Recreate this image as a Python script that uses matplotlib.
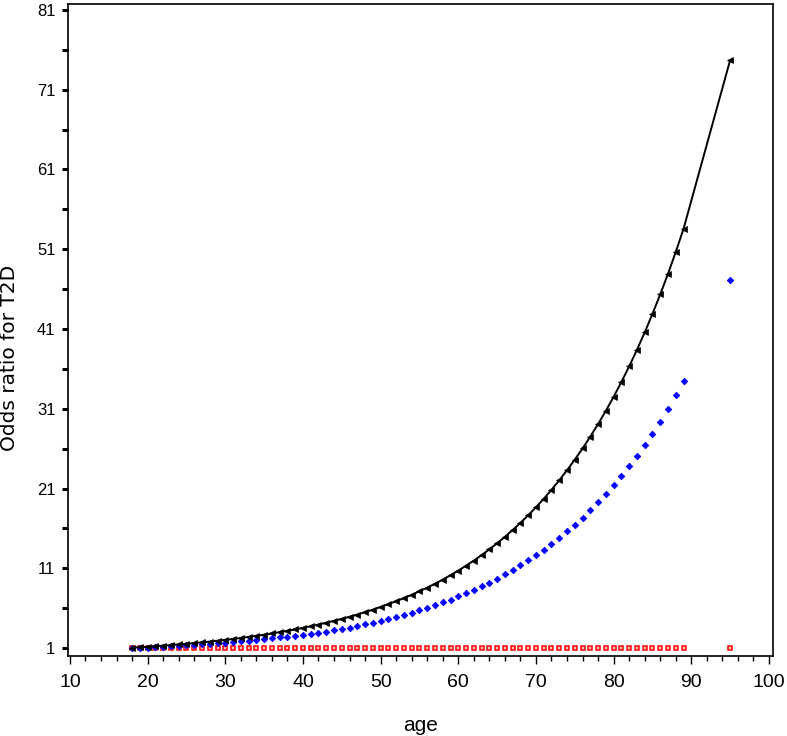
import matplotlib
matplotlib.use('Agg')
import matplotlib.pyplot as plt
from matplotlib.ticker import MultipleLocator

plt.rcParams['font.family'] = ['Liberation Sans', 'DejaVu Sans']

# ages 18..89 plus 95
ages = list(range(18, 90)) + [95]

# odds ratio, black line
or_black = [
    1.04, 1.10, 1.16, 1.23, 1.30, 1.37, 1.45, 1.53, 1.62, 1.71,
    1.81, 1.92, 2.02, 2.14, 2.26, 2.39, 2.53, 2.67, 2.83, 2.99,
    3.16, 3.34, 3.53, 3.73, 3.94, 4.17, 4.40, 4.66, 4.92, 5.20,
    5.50, 5.81, 6.15, 6.50, 6.87, 7.26, 7.67, 8.11, 8.57, 9.06,
    9.58, 10.13, 10.71, 11.32, 11.96, 12.65, 13.37, 14.13, 14.94, 15.79,
    16.69, 17.64, 18.65, 19.71, 20.84, 22.03, 23.29, 24.62, 26.02, 27.51,
    29.08, 30.74, 32.49, 34.35, 36.31, 38.38, 40.57, 42.89, 45.33, 47.92,
    50.66, 53.55, 74.7,
]

# blue points
or_blue = [
    0.97, 1.02, 1.06, 1.11, 1.17, 1.22, 1.28, 1.34, 1.40, 1.47,
    1.54, 1.61, 1.68, 1.76, 1.85, 1.93, 2.02, 2.12, 2.22, 2.32,
    2.43, 2.55, 2.67, 2.79, 2.92, 3.06, 3.21, 3.38, 3.56, 3.76,
    3.96, 4.17, 4.40, 4.64, 4.89, 5.15, 5.43, 5.73, 6.04, 6.37,
    6.71, 7.07, 7.46, 7.86, 8.29, 8.74, 9.21, 9.71, 10.24, 10.79,
    11.37, 11.99, 12.64, 13.33, 14.05, 14.81, 15.61, 16.46, 17.35, 18.29,
    19.28, 20.32, 21.42, 22.59, 23.81, 25.10, 26.46, 27.89, 29.40, 31.00,
    32.68, 34.45, 47.1,
]

# red reference points
or_red = [1.0] * len(ages)

fig = plt.figure(figsize=(7.87, 7.36), dpi=100)
ax = fig.add_axes([0.0864, 0.1087, 0.8956, 0.8859])

ax.plot(ages, or_black, color='black', lw=1.4, marker='<', ms=4.5,
        markeredgewidth=0.5, zorder=3)
ax.plot(ages, or_blue, ls='none', color='#0000ff', marker='D', ms=3.3,
        markeredgewidth=0.6, zorder=2)
ax.plot(ages, or_red, ls='none', color='#ff0000', marker='s', ms=3.3,
        markerfacecolor='#ffc0c0', markeredgewidth=1.1, zorder=1)

ax.set_xlim(9.75, 100.5)
ax.set_ylim(0, 81.75)
ax.xaxis.set_major_locator(MultipleLocator(10))
ax.xaxis.set_minor_locator(MultipleLocator(2))
ax.set_yticks(range(1, 82, 10))
ax.set_yticks(range(6, 82, 10), minor=True)

ax.tick_params(axis='x', which='major', length=6, width=1, labelsize=14, pad=7)
ax.tick_params(axis='x', which='minor', length=3.5, width=1)
ax.tick_params(axis='y', which='both', length=4, width=2.2, labelsize=12, pad=5)

for s in ax.spines.values():
    s.set_linewidth(1.2)

ax.set_xlabel('age', fontsize=15, labelpad=18)
ax.set_ylabel('Odds ratio for T2D', fontsize=14.5, family='DejaVu Sans')
ax.yaxis.set_label_coords(-0.069, 0.457)

fig.savefig('out.png', dpi=100)
